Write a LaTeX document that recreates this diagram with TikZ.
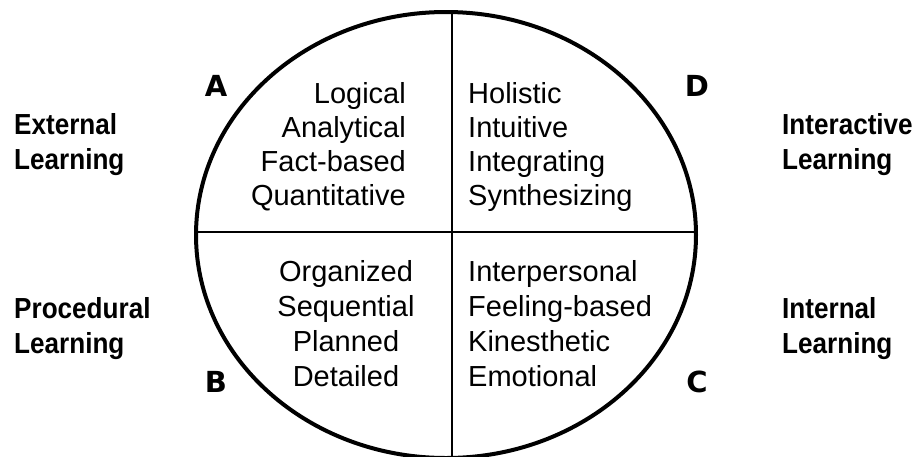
\documentclass[tikz,border=0pt]{standalone}
\usepackage{fontspec}
\setmainfont{Liberation Sans}
\newfontfamily\labfont[FakeStretch=0.9]{Liberation Sans}
\newfontfamily\letfont{DejaVu Sans}
\usetikzlibrary{shapes.geometric}
\begin{document}
\begin{tikzpicture}[x=1pt,y=-1pt,
  word/.style={font=\fontsize{29}{34}\selectfont, inner sep=0pt},
  side/.style={font=\labfont\bfseries\fontsize{29}{35}\selectfont, inner sep=0pt, anchor=base west},
  letter/.style={font=\letfont\bfseries\fontsize{29}{35}\selectfont, inner sep=0pt},
  divider/.style={line width=2.5pt}]
\useasboundingbox (0,0) rectangle (914,456);
\node[ellipse, draw, line width=4pt, minimum width=500pt, minimum height=446pt, inner sep=0pt] (circ) at (446,235) {};
\draw[divider] ([xshift=6pt]circ.north) -- ([xshift=6pt]circ.south);
\draw[divider] ([yshift=3pt]circ.west) -- ([yshift=3pt]circ.east);
% quadrant A
\foreach \t [count=\i] in {Logical,Analytical,Fact-based,Quantitative}
  \node[word, anchor=base east] (a\i) at (406,{103+34.3*(\i-1)}) {\t};
% quadrant D
\foreach \t [count=\i] in {Holistic,Intuitive,Integrating,Synthesizing}
  \node[word, anchor=base west] (d\i) at (468,{103+34.3*(\i-1)}) {\t};
% quadrant B
\foreach \t [count=\i] in {Organized,Sequential,Planned,Detailed}
  \node[word, anchor=base] (b\i) at (346,{281+35*(\i-1)}) {\t};
% quadrant C
\foreach \t [count=\i] in {Interpersonal,Feeling-based,Kinesthetic,Emotional}
  \node[word, anchor=base west] (c\i) at (468,{281+35*(\i-1)}) {\t};
% letters
\node[letter] (la) at (216,86) {A};
\node[letter] (ld) at (697,86) {D};
\node[letter] (lb) at (216,382) {B};
\node[letter] (lc) at (697,382) {C};
% side labels
\node[side] (ext1) at (14,134) {External};
\node[side] (ext2) at (14,169) {Learning};
\node[side] (pro1) at (14,318) {Procedural};
\node[side] (pro2) at (14,353) {Learning};
\node[side] (int1) at (782,134) {Interactive};
\node[side] (int2) at (782,169) {Learning};
\node[side] (inn1) at (782,318) {Internal};
\node[side] (inn2) at (782,353) {Learning};
\end{tikzpicture}
\end{document}
